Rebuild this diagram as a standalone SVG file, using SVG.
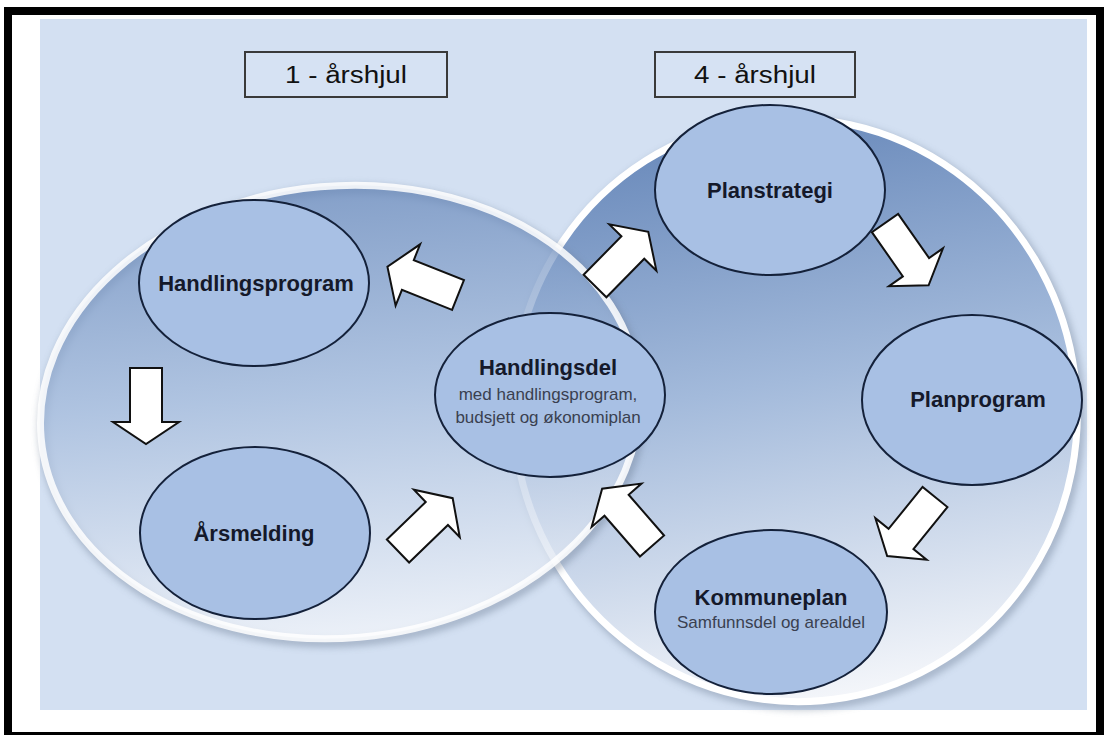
<svg xmlns="http://www.w3.org/2000/svg" xmlns:xlink="http://www.w3.org/1999/xlink" width="1107" height="735" viewBox="0 0 1107 735">
<defs>
<linearGradient id="bigGrad" x1="0" y1="0" x2="0" y2="1">
<stop offset="0" stop-color="#6a8abb"/>
<stop offset="0.45" stop-color="#a3badb"/>
<stop offset="1" stop-color="#f4f6fa"/>
</linearGradient>
<filter id="shadow" x="-10%" y="-10%" width="120%" height="120%">
<feGaussianBlur stdDeviation="4"/>
</filter>
<path id="arrow" d="M0,-16 L54,-16 L54,-33 L76,0 L54,33 L54,16 L0,16 Z"/>
<style>
.big{fill:url(#bigGrad);stroke:#ffffff;stroke-width:7}
.shadow{fill:none;stroke:#6a7a92;stroke-width:6;opacity:0.7}
.node{fill:#a8c0e4;stroke:#14213a;stroke-width:2}
.title{fill:#d6e2f3;stroke:#3a3a3a;stroke-width:2}
.arr{fill:#ffffff;stroke:#111111;stroke-width:2;stroke-linejoin:miter}
.t{font-family:"Liberation Sans",Arial,sans-serif;text-anchor:middle}
.b{font-weight:bold;font-size:22px;fill:#15192a}
.s{font-size:17px;fill:#3a4050}
.tt{font-size:23px;fill:#111111}
</style>
</defs>
<rect x="8" y="11" width="1092" height="725" fill="#ffffff" stroke="#000000" stroke-width="8"/>
<rect x="40" y="19" width="1047" height="691" fill="#d3e0f2"/>

<g id="wheel-4" transform="rotate(-10 795 410)">
<ellipse cx="797" cy="414" rx="282" ry="292" class="shadow" filter="url(#shadow)"/>
<ellipse cx="795" cy="410" rx="282" ry="292" class="big"/>
</g>
<g id="wheel-1" transform="rotate(-5 340 412)">
<ellipse cx="342" cy="416" rx="300" ry="226" class="shadow" filter="url(#shadow)"/>
<ellipse cx="340" cy="412" rx="300" ry="226" class="big" fill-opacity="0.75" stroke-opacity="0.85"/>
</g>

<g id="title-1">
<rect x="245" y="52" width="202" height="45" class="title"/>
<text x="346" y="83" class="t tt" textLength="122" lengthAdjust="spacingAndGlyphs">1 - årshjul</text>
</g>
<g id="title-4">
<rect x="655" y="52" width="200" height="45" class="title"/>
<text x="755" y="83" class="t tt" textLength="122" lengthAdjust="spacingAndGlyphs">4 - årshjul</text>
</g>

<g id="connectors">
<use xlink:href="#arrow" class="arr" transform="translate(458,295) rotate(201.8)"/>
<use xlink:href="#arrow" class="arr" transform="translate(146,368) rotate(90)"/>
<use xlink:href="#arrow" class="arr" transform="translate(398,551) rotate(-44)"/>
<use xlink:href="#arrow" class="arr" transform="translate(652,546) rotate(-131)"/>
<use xlink:href="#arrow" class="arr" transform="translate(595,286) rotate(-45.5)"/>
<use xlink:href="#arrow" class="arr" transform="translate(885,223) rotate(55)"/>
<use xlink:href="#arrow" class="arr" transform="translate(935,497) rotate(129)"/>
</g>

<g id="handlingsprogram">
<ellipse cx="254" cy="283" rx="115" ry="83" class="node"/>
<text x="256" y="291" class="t b">Handlingsprogram</text>
</g>
<g id="arsmelding">
<ellipse cx="255" cy="533" rx="115" ry="86" class="node"/>
<text x="254" y="541" class="t b">Årsmelding</text>
</g>
<g id="handlingsdel">
<ellipse cx="550" cy="395" rx="115" ry="82" class="node"/>
<text x="548" y="375" class="t b">Handlingsdel</text>
<text x="548" y="400" class="t s">med handlingsprogram,</text>
<text x="548" y="423" class="t s">budsjett og økonomiplan</text>
</g>
<g id="planstrategi">
<ellipse cx="770" cy="190" rx="115" ry="85" class="node"/>
<text x="770" y="198" class="t b">Planstrategi</text>
</g>
<g id="planprogram">
<ellipse cx="972" cy="400" rx="110" ry="85" class="node"/>
<text x="978" y="407" class="t b">Planprogram</text>
</g>
<g id="kommuneplan">
<ellipse cx="771" cy="612" rx="116" ry="82" class="node"/>
<text x="771" y="605" class="t b">Kommuneplan</text>
<text x="771" y="628" class="t s">Samfunnsdel og arealdel</text>
</g>
</svg>
